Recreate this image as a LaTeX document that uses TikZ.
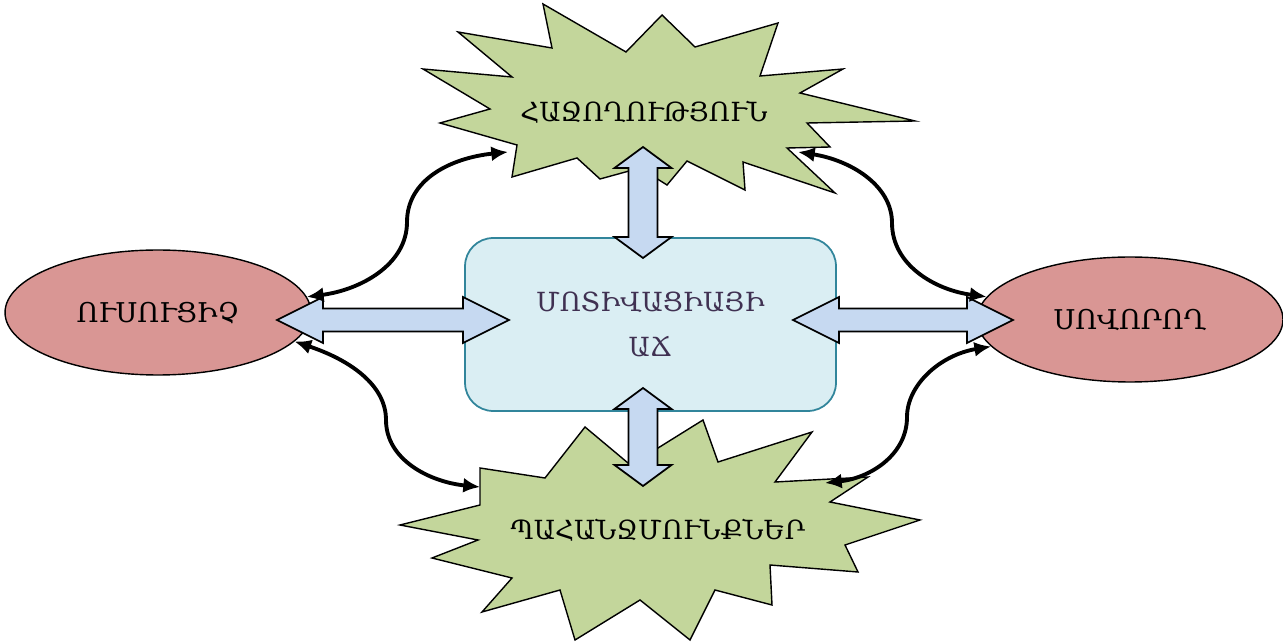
\documentclass[tikz,border=0pt]{standalone}
\usepackage{fontspec}
\setmainfont{DejaVu Serif}
\usetikzlibrary{shapes.geometric,arrows.meta,calc}

\definecolor{burstgreen}{RGB}{195,214,155}
\definecolor{rosered}{RGB}{217,150,148}
\definecolor{corefill}{RGB}{218,238,243}
\definecolor{coreborder}{RGB}{49,133,155}
\definecolor{coretext}{RGB}{64,49,82}
\definecolor{arrowblue}{RGB}{198,217,241}

\tikzset{
	person/.style={ellipse, draw=black, line width=0.8pt, fill=rosered, minimum width=6.12cm, minimum height=2.5cm, inner sep=0pt, font=\fontsize{15.5}{18}\selectfont},
	core/.style={rectangle, rounded corners=16pt, draw=coreborder, line width=1pt, fill=corefill, minimum width=7.42cm, minimum height=3.46cm, align=center, text=coretext, font=\fontsize{15}{26}\selectfont},
	burst/.style={draw=black, line width=0.8pt, fill=burstgreen, line join=miter},
	word/.style={font=\fontsize{15}{18}\selectfont, inner sep=0pt},
	fatarrow/.style={draw=black, line width=1pt, fill=arrowblue, line join=miter},
	link/.style={line width=2.2pt, {Latex[length=9.5pt,width=8.5pt]}-{Latex[length=9.5pt,width=8.5pt]}}
}

% double block arrows, tips given as coordinates
\newcommand{\hfat}[2]{\draw[fatarrow] (#1) -- ($(#1)+(46,-23)$) -- ($(#1)+(46,-11.5)$) -- ($(#2)+(-46,-11.5)$) -- ($(#2)+(-46,-23)$) -- (#2) -- ($(#2)+(-46,23)$) -- ($(#2)+(-46,11.5)$) -- ($(#1)+(46,11.5)$) -- ($(#1)+(46,23)$) -- cycle;}
\newcommand{\vfat}[2]{\draw[fatarrow] (#1) -- ($(#1)+(28.5,21)$) -- ($(#1)+(14.5,21)$) -- ($(#2)+(14.5,-21)$) -- ($(#2)+(28.5,-21)$) -- (#2) -- ($(#2)+(-28.5,-21)$) -- ($(#2)+(-14.5,-21)$) -- ($(#1)+(-14.5,21)$) -- ($(#1)+(-28.5,21)$) -- cycle;}

\begin{document}
\begin{tikzpicture}[x=0.02cm, y=-0.02cm]
	\useasboundingbox (0,0) rectangle (1283,644);

	% bursts
	\draw[burst] (423,69) -- (512,77) -- (458,32) -- (552,48) -- (543,4) -- (626,52) -- (662,15) -- (695,47) -- (778,23) -- (760,76) -- (843,69) -- (800,93) -- (915,121) -- (807,123) -- (830,147) -- (787,148) -- (835,193) -- (743,162) -- (745,190) -- (687,161) -- (667,185) -- (640,168) -- (600,179) -- (577,158) -- (512,177) -- (517,145) -- (440,123) -- (490,109) -- cycle;
	\draw[burst] (480,468) -- (545,478) -- (585,427) -- (628,463) -- (658,448) -- (703,420) -- (718,462) -- (812,432) -- (775,482) -- (868,477) -- (830,502) -- (920,520) -- (845,545) -- (858,572) -- (770,565) -- (772,605) -- (715,590) -- (690,640) -- (640,600) -- (575,640) -- (560,590) -- (482,612) -- (512,578) -- (432,558) -- (478,540) -- (400,525) -- (480,505) -- cycle;
	\node[word] (success) at (644,112) {ՀԱՋՈՂՈՒԹՅՈՒՆ};
	\node[word] (demands) at (658,530) {ՊԱՀԱՆՋՄՈՒՆՔՆԵՐ};

	% main nodes
	\node[person] (teacher) at (158,312.5) {ՈՒՍՈՒՑԻՉ};
	\node[person] (learner) at (1130,319.5) {ՍՈՎՈՐՈՂ};
	\node[core] (growth) at (650.5,324.5) {ՄՈՏԻՎԱՑԻԱՅԻ\\ԱՃ};

	% tips of the block arrows
	\coordinate (tw1) at (277,320);
	\coordinate (tw2) at (509,320);
	\coordinate (lw1) at (793,320);
	\coordinate (lw2) at (1013,320);
	\coordinate (sw1) at (643,147);
	\coordinate (sw2) at (643,258);
	\coordinate (dw1) at (643,388);
	\coordinate (dw2) at (643,486);
	\hfat{tw1}{tw2}
	\hfat{lw1}{lw2}
	\vfat{sw1}{sw2}
	\vfat{dw1}{dw2}

	% curved links
	\coordinate (s1) at (508,152);
	\coordinate (s2) at (798,152);
	\coordinate (d1) at (480,487);
	\coordinate (d2) at (825,483);
	\draw[link] (teacher.6) .. controls (360,290) and (407,265) .. (407,222) .. controls (407,180) and (450,158) .. (s1);
	\draw[link] (s2) .. controls (850,160) and (892,185) .. (892,223) .. controls (892,265) and (935,290) .. (learner.171);
	\draw[link] (teacher.-12) .. controls (350,360) and (386,385) .. (386,420) .. controls (386,460) and (430,482) .. (d1);
	\draw[link] (learner.191) .. controls (940,355) and (907,385) .. (907,417) .. controls (907,455) and (870,478) .. (d2);

\end{tikzpicture}
\end{document}
